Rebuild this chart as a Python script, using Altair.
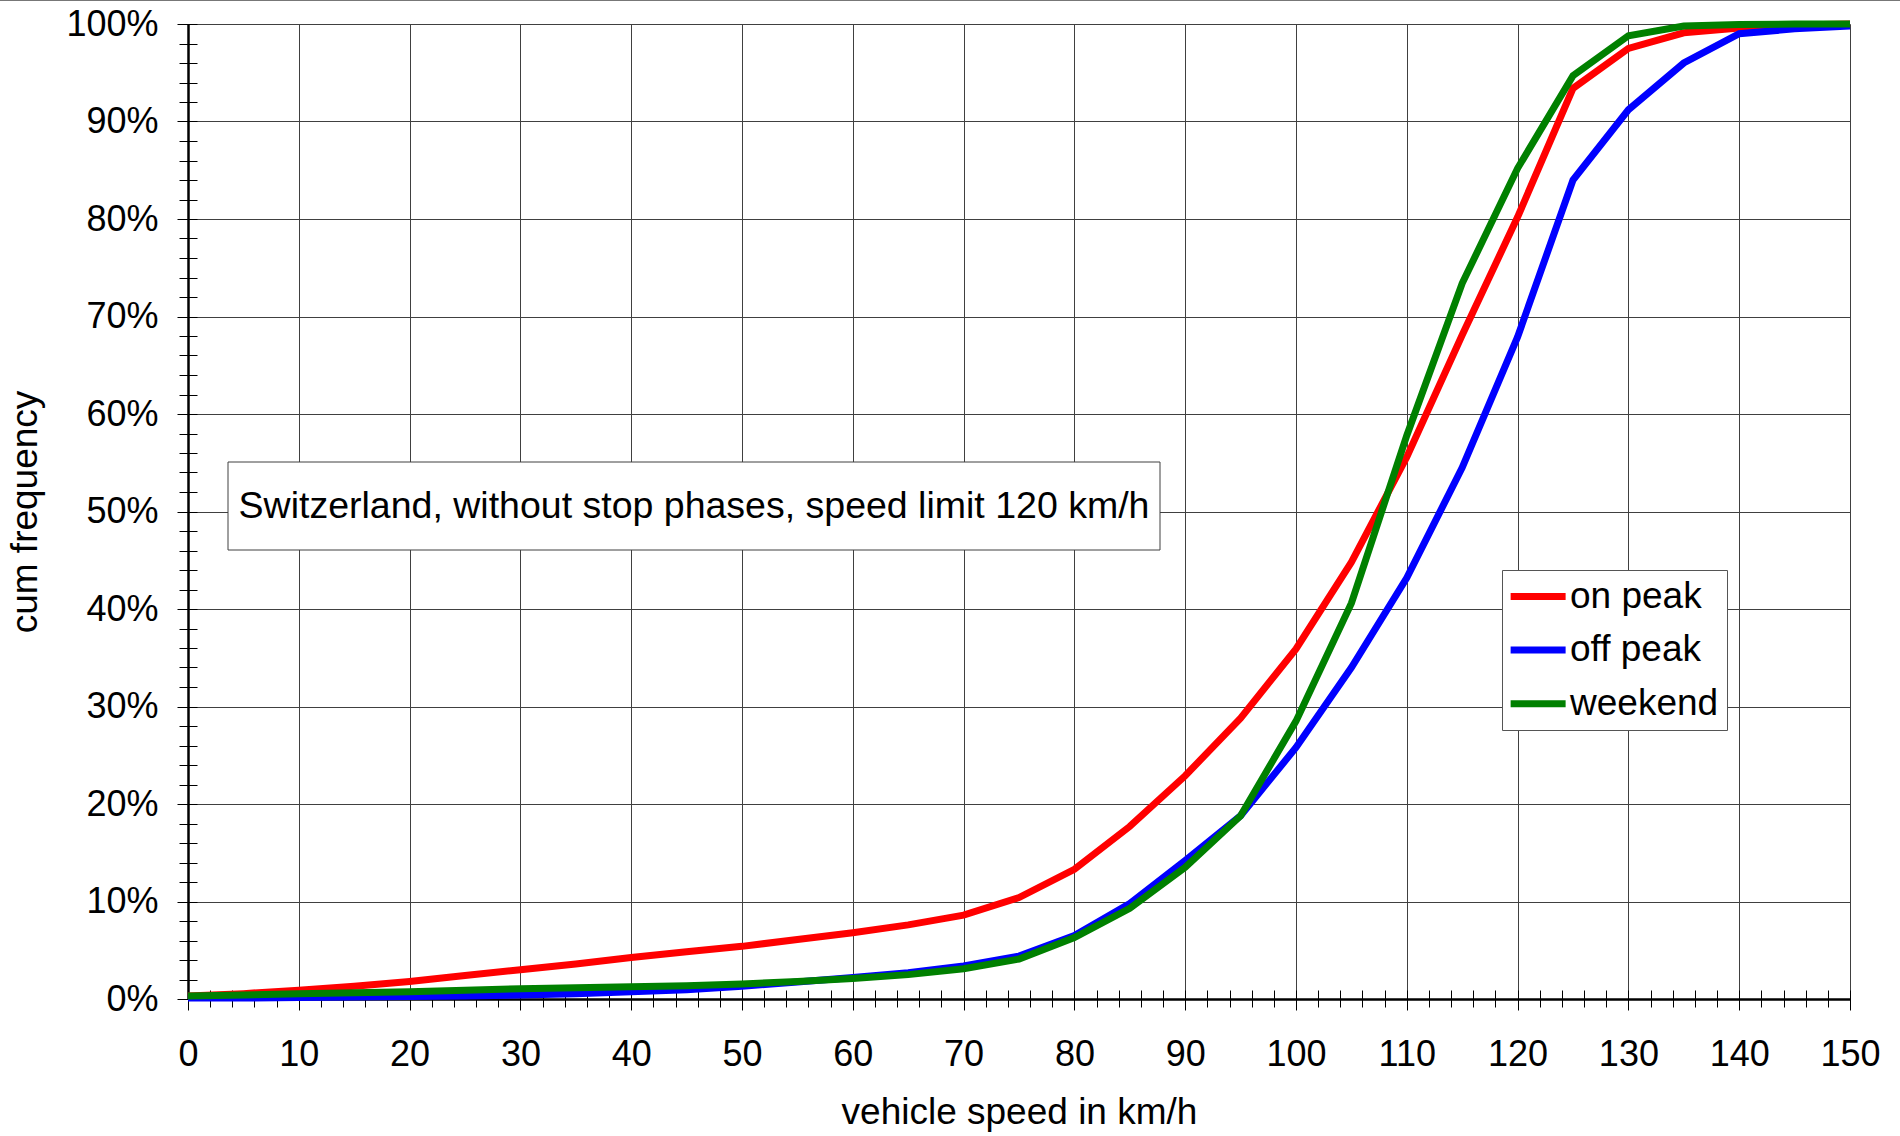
import altair as alt
import pandas as pd

# Cumulative speed distribution, sampled every 5 km/h
speed = list(range(0, 151, 5))
on_peak = [0.3, 0.55, 0.9, 1.3, 1.8, 2.4, 3.0, 3.6, 4.25, 4.85, 5.4, 6.1, 6.8, 7.6, 8.6,
           10.4, 13.3, 17.7, 22.9, 28.8, 35.9, 44.8, 55.6, 68.1, 80.2, 93.4, 97.5, 99.1,
           99.6, 99.9, 100.0]
off_peak = [0.1, 0.1, 0.15, 0.2, 0.25, 0.3, 0.4, 0.55, 0.75, 0.95, 1.3, 1.75, 2.2, 2.7, 3.4,
            4.4, 6.5, 9.8, 14.2, 18.8, 25.8, 34.0, 43.2, 54.5, 67.9, 84.0, 91.2, 96.0,
            99.0, 99.5, 99.8]
weekend = [0.3, 0.4, 0.55, 0.65, 0.75, 0.9, 1.05, 1.15, 1.25, 1.35, 1.55, 1.8, 2.1, 2.5, 3.1,
           4.1, 6.3, 9.3, 13.5, 18.8, 28.5, 40.6, 57.8, 73.4, 85.2, 94.7, 98.8, 99.8,
           99.95, 100.0, 100.0]

series_names = ["on peak", "off peak", "weekend"]
series_colors = ["#ff0000", "#0000ff", "#008000"]

x_ticks = list(range(0, 151, 10))
x_minor = list(range(0, 151, 2))
y_ticks = list(range(0, 101, 10))
y_minor = list(range(0, 101, 2))

note = "Switzerland, without stop phases, speed limit 120 km/h"
x_title = "vehicle speed in km/h"
y_title = "cum frequency"

rows = []
for name, vals in zip(series_names, [on_peak, off_peak, weekend]):
    for s, v in zip(speed, vals):
        rows.append({"speed": s, "cum": v, "series": name})
df = pd.DataFrame(rows)

FONT = "Liberation Sans"
W, H = 1662, 975
LINE_W = 7

x_scale = alt.Scale(domain=[0, 150], nice=False, zero=False)
y_scale = alt.Scale(domain=[0, 100], nice=False, zero=False)

# legend swatch: a horizontal stroke, longer than the nominal symbol box
color = alt.Color(
    "series:N",
    scale=alt.Scale(domain=series_names, range=series_colors),
    sort=series_names,
    legend=alt.Legend(
        orient="none", legendX=1314, legendY=546, title=None,
        symbolType="M-2.6,0H5.4", symbolSize=189, symbolStrokeWidth=LINE_W,
        labelFont=FONT, labelFontSize=37, labelColor="black", labelOffset=23,
        labelLimit=0, rowPadding=15.6, padding=8,
        strokeColor="#555555", fillColor="white",
    ),
)

x_main = alt.Axis(
    orient="bottom", values=x_ticks, grid=True, gridColor="#404040", gridWidth=1,
    domainColor="black", domainWidth=2.5, tickColor="black", tickWidth=1, tickSize=11,
    labelFont=FONT, labelFontSize=36, labelColor="black", labelPadding=55,
    labelBaseline="alphabetic", labelFlush=False, labelOverlap=False,
    title=x_title, titleFont=FONT, titleFontSize=37, titleFontWeight="normal",
    titleColor="black", titleX=W / 2, titleY=124, titleAlign="center",
    titleBaseline="alphabetic",
)
y_main = alt.Axis(
    orient="left", values=y_ticks, grid=True, gridColor="#404040", gridWidth=1,
    domainColor="black", domainWidth=2.5, tickColor="black", tickWidth=1, tickSize=11,
    labelFont=FONT, labelFontSize=36, labelColor="black", labelPadding=19,
    labelExpr="datum.value + '%'", labelFlush=False, labelOverlap=False,
    title=y_title, titleFont=FONT, titleFontSize=37, titleFontWeight="normal",
    titleColor="black", titleAngle=270, titleX=-152, titleY=H / 2,
    titleAlign="center", titleBaseline="alphabetic",
)
x_minor_axis = alt.Axis(
    orient="bottom", values=x_minor, offset=-9, tickSize=17, tickColor="black",
    tickWidth=1, labels=False, domain=False, grid=False, title=None,
)
y_minor_axis = alt.Axis(
    orient="left", values=y_minor, offset=-9, tickSize=18, tickColor="black",
    tickWidth=1, labels=False, domain=False, grid=False, title=None,
)

line_layers = []
for i, name in enumerate(series_names):
    line_layers.append(
        alt.Chart(df)
        .transform_filter(alt.datum.series == name)
        .mark_line(strokeWidth=LINE_W)
        .encode(
            x=alt.X("speed:Q", scale=x_scale, axis=x_main if i == 0 else None),
            y=alt.Y("cum:Q", scale=y_scale, axis=y_main if i == 0 else None),
            color=color,
        )
    )

x_minor_layer = (
    alt.Chart(pd.DataFrame({"t": x_minor}))
    .mark_point(opacity=0)
    .encode(x=alt.X("t:Q", scale=x_scale, axis=x_minor_axis))
)
y_minor_layer = (
    alt.Chart(pd.DataFrame({"t": y_minor}))
    .mark_point(opacity=0)
    .encode(y=alt.Y("t:Q", scale=y_scale, axis=y_minor_axis))
)

note_df = pd.DataFrame({"label": [note]})
note_box = (
    alt.Chart(note_df)
    .mark_rect(fill="white", stroke="#404040", strokeWidth=1)
    .encode(x=alt.value(40), x2=alt.value(972), y=alt.value(438), y2=alt.value(526))
)
note_text = (
    alt.Chart(note_df)
    .mark_text(font=FONT, fontSize=37.5, color="black", align="center", baseline="alphabetic")
    .encode(text="label:N", x=alt.value(506), y=alt.value(494))
)

top_rule = (
    alt.Chart(note_df)
    .mark_rule(color="#777777", strokeWidth=1)
    .encode(x=alt.value(-188), x2=alt.value(1712), y=alt.value(-23.5))
)

chart = (
    alt.layer(x_minor_layer, y_minor_layer, *line_layers, note_box, note_text, top_rule)
    .resolve_axis(x="independent", y="independent")
    .properties(
        width=W, height=H,
        padding={"left": 188, "top": 24, "right": 50, "bottom": 137},
        autosize=alt.AutoSizeParams(type="none"),
        background="white",
    )
    .configure_view(stroke="black", strokeWidth=2)
    .configure(font=FONT)
)

chart.save("out.html", embed_options={"renderer": "svg", "actions": False})
